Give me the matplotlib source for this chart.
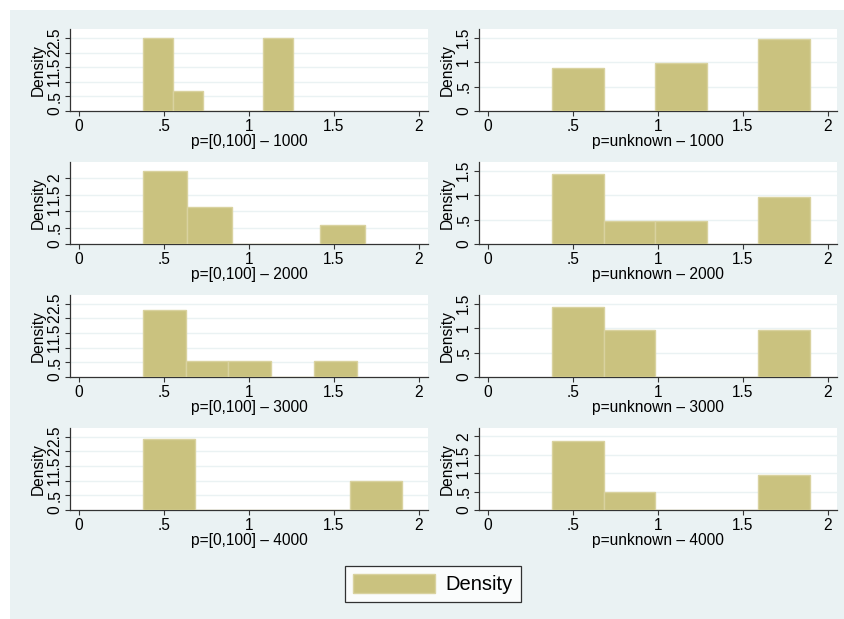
import matplotlib
matplotlib.use("Agg")
import matplotlib.pyplot as plt
from matplotlib.patches import Rectangle, Patch
from matplotlib.ticker import FuncFormatter

plt.rcParams["font.family"] = ["Liberation Sans", "DejaVu Sans"]

# Histogram panels: title, first bin edge, bin width, bar heights (density), top y tick
titles_left = ["p=[0,100] – 1000", "p=[0,100] – 2000", "p=[0,100] – 3000", "p=[0,100] – 4000"]
starts_left = [0.376, 0.376, 0.375, 0.376]
widths_left = [0.176, 0.261, 0.252, 0.305]
heights_left = [
    [2.53, 0.69, 0.0, 0.0, 2.53],
    [2.23, 1.12, 0.0, 0.0, 0.566],
    [2.27, 0.56, 0.56, 0.0, 0.56],
    [2.41, 0.0, 0.0, 0.0, 0.97],
]
ytop_left = [2.5, 2.0, 2.5, 2.5]

titles_right = ["p=unknown – 1000", "p=unknown – 2000", "p=unknown – 3000", "p=unknown – 4000"]
starts_right = [0.379, 0.379, 0.379, 0.379]
widths_right = [0.303, 0.303, 0.303, 0.303]
heights_right = [
    [0.88, 0.0, 0.98, 0.0, 1.47],
    [1.42, 0.47, 0.47, 0.0, 0.95],
    [1.42, 0.95, 0.0, 0.0, 0.95],
    [1.89, 0.49, 0.0, 0.0, 0.95],
]
ytop_right = [1.5, 1.5, 1.5, 2.0]

xticks = [0, 0.5, 1, 1.5, 2]

BG = "#EAF2F3"
FILL = "#CAC27F"
EDGE = "#D9D29F"
FS = 11.2

W, H = 844, 619
fig = plt.figure(figsize=(W / 100, H / 100), dpi=100)
fig.patch.set_facecolor("white")
fig.add_artist(Rectangle((10 / W, 0), 1 - 10 / W, 1 - 10 / H,
                         transform=fig.transFigure, facecolor=BG,
                         edgecolor="none", zorder=0))


def fmt(v, _pos=None):
    s = ("%g" % v)
    if s.startswith("0."):
        s = s[1:]
    return s


def panel(px_left, px_top, title, start, width, heights, ytop):
    pw, ph = 358, 82
    ax = fig.add_axes([px_left / W, 1 - (px_top + ph) / H, pw / W, ph / H])
    ax.set_facecolor("white")
    lefts = [start + i * width for i in range(len(heights))]
    ax.bar(lefts, heights, width=width, align="edge", color=FILL,
           edgecolor=EDGE, linewidth=1.0, zorder=3)
    m = 8.5
    top = max(ytop, max(heights)) * ph / (ph - m)
    ax.set_ylim(0, top)
    xm = 9 / 170
    ax.set_xlim(-xm, 2 + xm)
    yt = [i * 0.5 for i in range(int(round(ytop / 0.5)) + 1)]
    ax.set_yticks(yt)
    ax.set_xticks(xticks)
    ax.xaxis.set_major_formatter(FuncFormatter(fmt))
    ax.yaxis.set_major_formatter(FuncFormatter(fmt))
    for t in yt[1:]:
        ax.axhline(t, color=BG, linewidth=1.0, zorder=1)
    for side in ("top", "right"):
        ax.spines[side].set_visible(False)
    for side in ("left", "bottom"):
        ax.spines[side].set_color("#333333")
        ax.spines[side].set_linewidth(0.9)
    ax.tick_params(axis="both", direction="out", length=3.5, width=0.8,
                   color="#333333", labelsize=FS, pad=2)
    ax.tick_params(axis="y", labelrotation=90)
    for lab in ax.get_yticklabels():
        lab.set_va("center")
    ax.set_xlabel(title, fontsize=FS, labelpad=0.5)
    ax.set_ylabel("Density", fontsize=FS, labelpad=1.5)
    return ax


row_tops = [29, 162, 295, 428]
for i in range(4):
    panel(70, row_tops[i], titles_left[i], starts_left[i], widths_left[i],
          heights_left[i], ytop_left[i])
    panel(479, row_tops[i], titles_right[i], starts_right[i], widths_right[i],
          heights_right[i], ytop_right[i])

handle = Patch(facecolor=FILL, edgecolor=EDGE, linewidth=1.0)
leg = fig.legend([handle], ["Density"], loc="center",
                 bbox_to_anchor=(432.5 / W, 1 - 584 / H),
                 fontsize=14.5, frameon=True, fancybox=False,
                 edgecolor="black", handlelength=4.1, handleheight=1.05,
                 borderpad=0.4, handletextpad=0.5, borderaxespad=0)
leg.get_frame().set_linewidth(0.9)

fig.savefig("out.png", dpi=100, facecolor=fig.get_facecolor())
